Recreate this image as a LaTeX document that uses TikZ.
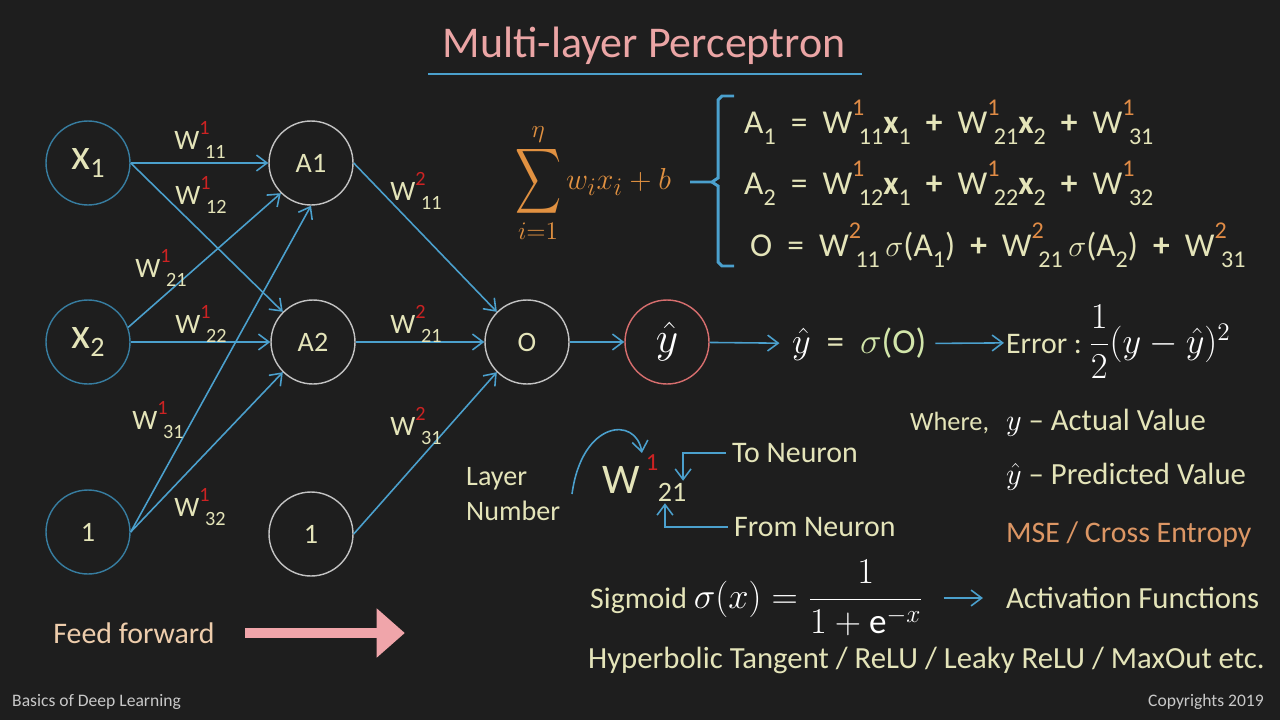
\documentclass[tikz,border=0pt]{standalone}
\usepackage{fontspec}
\usepackage{amsmath}
\usepackage{graphicx}
\setmainfont{Carlito}
\usetikzlibrary{arrows.meta,positioning,calc}
\definecolor{board}{RGB}{30,30,30}
\definecolor{chalk}{RGB}{228,228,185}
\definecolor{wireblue}{RGB}{75,160,205}
\definecolor{inpblue}{RGB}{55,125,160}
\definecolor{hidgray}{RGB}{195,195,195}
\definecolor{outred}{RGB}{215,110,110}
\definecolor{supred}{RGB}{205,35,35}
\definecolor{eqsup}{RGB}{225,140,70}
\definecolor{sumorange}{RGB}{225,145,65}
\definecolor{titlepink}{RGB}{235,165,165}
\definecolor{msecol}{RGB}{220,150,100}
\definecolor{feedcol}{RGB}{240,165,170}
\definecolor{feedtext}{RGB}{238,205,172}
\definecolor{footgray}{RGB}{200,200,200}
\definecolor{sigcol}{RGB}{210,230,170}

% weight label: W, coloured layer number, neuron indices
\newcommand{\wlab}[3]{W\rlap{\raisebox{0.55em}{\scalebox{0.72}{\textcolor{#1}{#2}}}}\kern0.2em\raisebox{-0.32em}{\scalebox{0.72}{#3}}}
\newcommand{\withsub}[2]{#1\raisebox{-0.32em}{\scalebox{0.72}{#2}}}
\newcommand{\invar}[1]{{\fontsize{25}{25}\selectfont x}\raisebox{-0.3em}{#1}}
\newcommand{\bx}[1]{\withsub{\textbf{x}}{#1}}
\newcommand{\bigsum}{\mathop{\vcenter{\hbox{\scalebox{1.05}[1.5]{$\displaystyle\sum$}}}}\limits}

\begin{document}
\begin{tikzpicture}[x=0.02cm,y=-0.02cm,>={Straight Barb[length=6pt,width=9pt]},
  neuron/.style={circle,minimum size=1.68cm,inner sep=0pt,line width=0.8pt,text=chalk,font=\fontsize{16}{16}\selectfont},
  inp/.style={neuron,draw=inpblue},
  hid/.style={neuron,draw=hidgray},
  wire/.style={->,wireblue,line width=0.9pt},
  wlabel/.style={text=chalk,font=\fontsize{16}{16}\selectfont},
  eqline/.style={anchor=west,text=chalk,font=\fontsize{19}{19}\selectfont},
  note/.style={anchor=west,text=chalk,inner sep=1pt,font=\fontsize{17.5}{17.5}\selectfont},
  foot/.style={text=footgray,font=\fontsize{10}{10}\selectfont}]

\fill[board] (0,0) rectangle (1280,720);

% title
\node[text=titlepink,font=\fontsize{25}{25}\selectfont] (title) at (644,46) {Multi-layer Perceptron};
\draw[wireblue,line width=1.6pt] (428,74) -- (862,74);

% network
\node[inp] (x1) at (88,163) {\invar{1}};
\node[inp] (x2) at (88,342) {\invar{2}};
\node[inp] (b1) at (88,532) {1};
\node[hid] (A1) at (311,163) {A1};
\node[hid] (A2) at (313,342) {A2};
\node[hid] (b2) at (311,534) {1};
\node[hid] (O) at (527,342) {O};
\node[neuron,draw=outred,text=white,font=\fontsize{24}{24}\selectfont] (yhat) at (667,342) {$\hat{y}$};

\draw[wire] (x1) -- (A1);
\draw[wire] (x1.east) -- (A2.north west);
\draw[wire] (x2.20) -- (A1.south west);
\draw[wire] (x2) -- (A2);
\draw[wire] (b1.east) -- (A1.south);
\draw[wire] (b1.east) -- (A2.south west);
\draw[wire] (A1.east) -- (O.north west);
\draw[wire] (A2) -- (O);
\draw[wire] (b2.east) -- (O.south west);
\draw[wire] (O) -- (yhat);

\node[wlabel] (w111) at (200,140) {\wlab{supred}{1}{11}};
\node[wlabel] (w112) at (201,195) {\wlab{supred}{1}{12}};
\node[wlabel] (w121) at (161,268) {\wlab{supred}{1}{21}};
\node[wlabel] (w122) at (201,324) {\wlab{supred}{1}{22}};
\node[wlabel] (w131) at (158,420) {\wlab{supred}{1}{31}};
\node[wlabel] (w132) at (200,507) {\wlab{supred}{1}{32}};
\node[wlabel] (w211) at (416,191) {\wlab{supred}{2}{11}};
\node[wlabel] (w221) at (416,324) {\wlab{supred}{2}{21}};
\node[wlabel] (w231) at (416,426) {\wlab{supred}{2}{31}};

% weighted sum and equations
\node[text=sumorange,inner sep=1pt,font=\fontsize{19}{19}\selectfont] (sum) at (593,183)
  {$\displaystyle\bigsum_{i=1}^{\eta} w_i x_i + b$};
\draw[wireblue,line width=1.7pt] (734,96) -- (722,96) -- (718,100) -- (718,178) -- (712,182) -- (690,182);
\draw[wireblue,line width=1.7pt] (712,182) -- (718,186) -- (718,262) -- (722,266) -- (734,266);
\node[eqline] (eq1) at (738,122) {\withsub{A}{1}~ = ~\wlab{eqsup}{1}{11}\bx{1} ~\textbf{+}~ \wlab{eqsup}{1}{21}\bx{2} ~\textbf{+}~ \wlab{eqsup}{1}{31}};
\node[eqline] (eq2) at (738,183) {\withsub{A}{2}~ = ~\wlab{eqsup}{1}{12}\bx{1} ~\textbf{+}~ \wlab{eqsup}{1}{22}\bx{2} ~\textbf{+}~ \wlab{eqsup}{1}{32}};
\node[eqline] (eq3) at (744,245) {O ~=~ \wlab{eqsup}{2}{11}\,$\sigma$(\withsub{A}{1}) ~\textbf{+}~ \wlab{eqsup}{2}{21}\,$\sigma$(\withsub{A}{2}) ~\textbf{+}~ \wlab{eqsup}{2}{31}};

% output and error
\node[anchor=west,text=chalk,inner sep=1pt,font=\fontsize{20}{20}\selectfont] (yeq) at (790,344)
  {\textcolor{white}{$\hat{y}$}~ = ~\textcolor{sigcol}{$\sigma$(O)}};
\draw[wire,shorten >=6pt] (yhat) -- (yeq);
\node[anchor=west,text=chalk,inner sep=1pt,font=\fontsize{17}{17}\selectfont] (err) at (1004,342)
  {Error :~\textcolor{white}{\fontsize{20}{20}\selectfont$\dfrac{1}{2}(y-\hat{y})^2$}};
\draw[wire,shorten <=4pt] (yeq) -- (err);

\node[anchor=west,text=chalk,inner sep=1pt,font=\fontsize{15}{15}\selectfont] (where) at (908,423) {Where,};
\node[note] (actual) at (1004,423) {\textcolor{white}{$y$} -- Actual Value};
\node[note] (pred) at (1004,477) {\textcolor{white}{$\hat{y}$} -- Predicted Value};
\node[note,text=msecol,font=\fontsize{17}{17}\selectfont] (mse) at (1004,535) {MSE / Cross Entropy};

% notation legend
\node[anchor=west,text=chalk,align=left,font=\fontsize{16}{20}\selectfont] (layer) at (460,494) {Layer\\Number};
\node[text=chalk,font=\fontsize{24}{24}\selectfont] (wbig) at (621,480) {W};
\node[text=supred,font=\fontsize{14}{14}\selectfont,inner sep=1pt] (lsup) at (652,463) {1};
\node[text=chalk,font=\fontsize{16}{16}\selectfont,inner sep=1pt] (lsub) at (672,492) {21};
\coordinate (cstart) at (572,494);
\draw[wire] (cstart) .. controls (582,420) and (636,416) .. ([xshift=-1pt]lsup.north west);
\node[anchor=west,text=chalk,font=\fontsize{17}{17}\selectfont] (toN) at (726,453) {To Neuron};
\node[anchor=west,text=chalk,font=\fontsize{17}{17}\selectfont] (fromN) at (728,527) {From Neuron};
\draw[wire] (toN.west) -| ([xshift=-3pt]lsub.north east);
\draw[wire] (fromN.west) -| ([xshift=-4pt]lsub.south);

% activation functions
\node[anchor=west,text=chalk,font=\fontsize{17}{17}\selectfont] (sigm) at (584,598)
  {Sigmoid~\textcolor{white}{\fontsize{20}{20}\selectfont$\sigma(x)=\dfrac{1}{1+\mathrm{e}^{-x}}$}};
\node[note] (act) at (1004,598) {Activation Functions};
\draw[wire,shorten <=8pt,shorten >=12pt] (sigm) -- (act);
\node[note] (others) at (586,660) {Hyperbolic Tangent / ReLU / Leaky ReLU / MaxOut etc.};

% feed forward
\node[text=feedtext,font=\fontsize{17}{17}\selectfont] (ff) at (134,633) {Feed forward};
\draw[feedcol,line width=5.6pt,-{Triangle[length=16pt,width=27pt]}] ([xshift=0.48cm]ff.east) -- ++(160,0);

% footer
\node[foot,anchor=west] (fl) at (6,702) {Basics of Deep Learning};
\node[foot,anchor=east] (fr) at (1270,702) {Copyrights 2019};
\end{tikzpicture}
\end{document}
